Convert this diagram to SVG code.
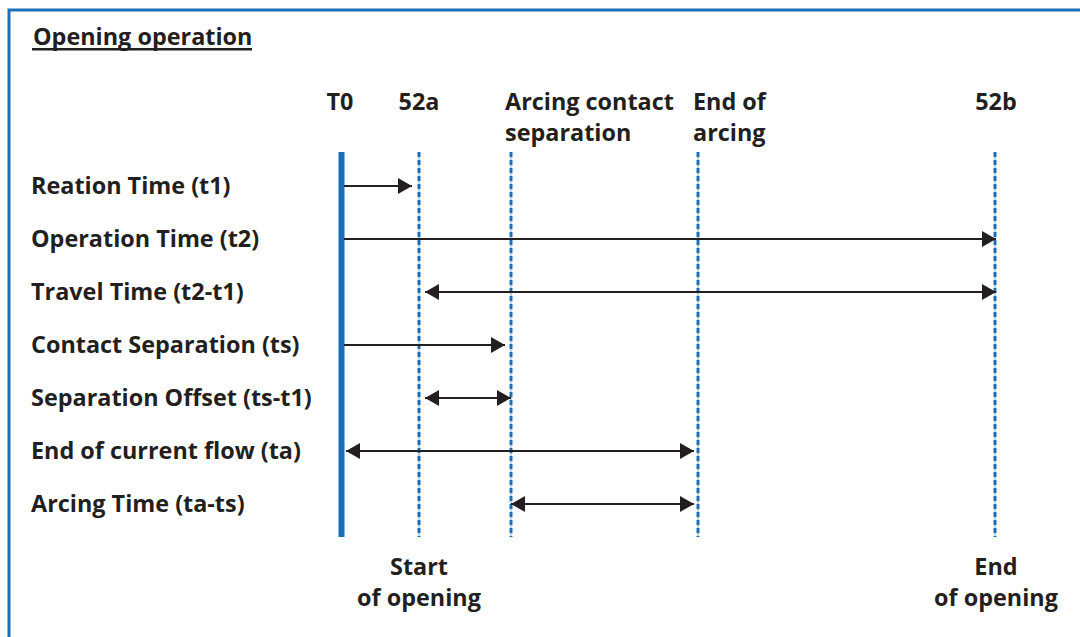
<svg xmlns="http://www.w3.org/2000/svg" width="1080" height="637" viewBox="0 0 1080 637">
<defs>
<style>
.t{font-family:"Open Sans","Noto Sans",sans-serif;font-weight:700;font-size:23.4px;fill:#231f20}
.c{text-anchor:middle}
.ax{stroke:#231f20;stroke-width:2.2;fill:none}
.dl{stroke:#1a6fb8;stroke-width:3;stroke-dasharray:5 3;fill:none}
.dt{stroke:#6fa8dc;stroke-width:1;fill:none}
</style>
<marker id="ah" viewBox="0 0 14 16" refX="14" refY="8" markerWidth="14" markerHeight="16" markerUnits="userSpaceOnUse" orient="auto-start-reverse">
<path d="M0,0 L14,8 L0,16 Z" fill="#231f20"/>
</marker>
</defs>
<rect width="1080" height="637" fill="#fff"/>
<path d="M9,637 V10 H1080" stroke="#1a6fb8" stroke-width="3" fill="none"/>
<g id="title"><text class="t" x="33" y="45">Opening operation</text><rect x="32" y="48" width="220" height="2.5" fill="#231f20"/></g>
<g id="T0"><rect x="338.5" y="152" width="6" height="385" fill="#1a6fb8"/><text class="t c" x="340" y="110">T0</text></g>
<g id="m52a"><line class="dt" x1="419" y1="152" x2="419" y2="537"/><line class="dl" x1="419" y1="152" x2="419" y2="537"/><text class="t c" x="419" y="575">Start</text><text class="t c" x="419" y="606">of opening</text><text class="t c" x="419" y="110">52a</text></g>
<g id="arc"><line class="dt" x1="511" y1="152" x2="511" y2="537"/><line class="dl" x1="511" y1="152" x2="511" y2="537"/><text class="t" x="505" y="110">Arcing contact</text><text class="t" x="505" y="141">separation</text></g>
<g id="endarc"><line class="dt" x1="698" y1="152" x2="698" y2="537"/><line class="dl" x1="698" y1="152" x2="698" y2="537"/><text class="t" x="693" y="110">End of</text><text class="t" x="693" y="141">arcing</text></g>
<g id="m52b"><line class="dt" x1="995" y1="152" x2="995" y2="537"/><line class="dl" x1="995" y1="152" x2="995" y2="537"/><text class="t c" x="996" y="110">52b</text><text class="t c" x="996" y="575">End</text><text class="t c" x="996" y="606">of opening</text></g>
<g id="labels">
<text class="t" x="31" y="194">Reation Time (t1)</text>
<text class="t" x="31" y="247">Operation Time (t2)</text>
<text class="t" x="31" y="300">Travel Time (t2-t1)</text>
<text class="t" x="31" y="353">Contact Separation (ts)</text>
<text class="t" x="31" y="406">Separation Offset (ts-t1)</text>
<text class="t" x="31" y="459">End of current flow (ta)</text>
<text class="t" x="31" y="512">Arcing Time (ta-ts)</text>
</g>
<g id="connectors">
<line class="ax" x1="344" y1="186" x2="412" y2="186" marker-end="url(#ah)"/>
<line class="ax" x1="344" y1="239" x2="996" y2="239" marker-end="url(#ah)"/>
<line class="ax" x1="425" y1="292" x2="996" y2="292" marker-start="url(#ah)" marker-end="url(#ah)"/>
<line class="ax" x1="344" y1="345" x2="505" y2="345" marker-end="url(#ah)"/>
<line class="ax" x1="425" y1="398" x2="511" y2="398" marker-start="url(#ah)" marker-end="url(#ah)"/>
<line class="ax" x1="346" y1="451" x2="694" y2="451" marker-start="url(#ah)" marker-end="url(#ah)"/>
<line class="ax" x1="511" y1="504" x2="694" y2="504" marker-start="url(#ah)" marker-end="url(#ah)"/>
</g>
</svg>
